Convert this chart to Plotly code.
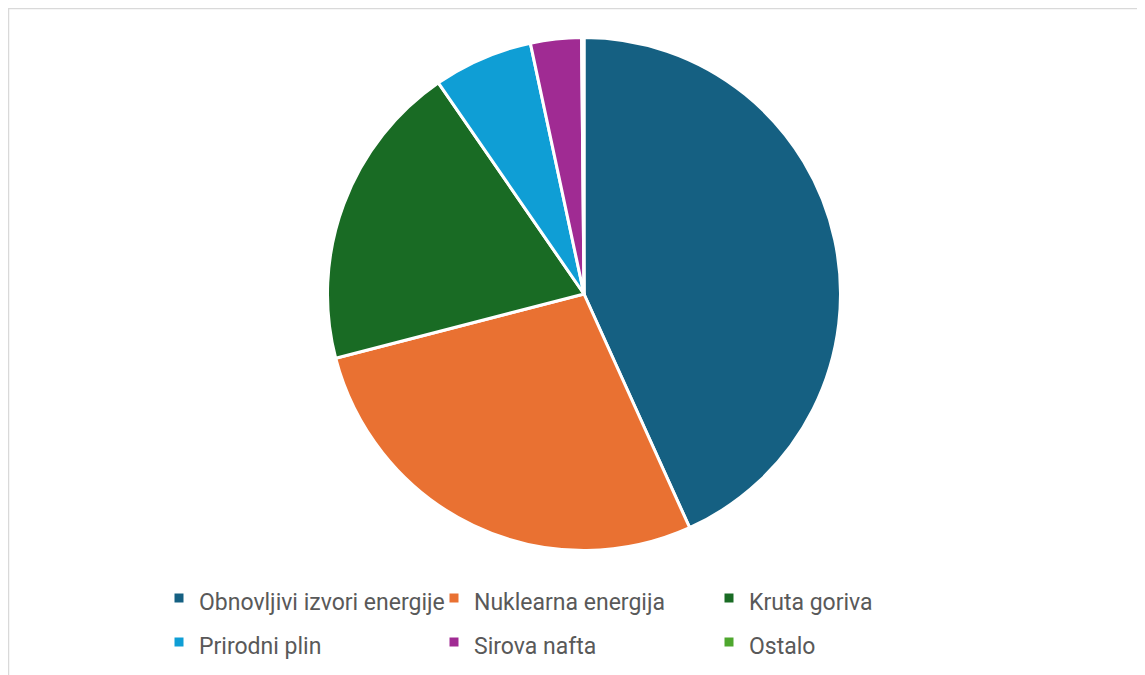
import plotly.graph_objects as go

labels = ["Obnovljivi izvori energije", "Nuklearna energija", "Kruta goriva",
          "Prirodni plin", "Sirova nafta", "Ostalo"]
values = [43.2, 27.7, 19.4, 6.25, 3.2, 0.15]
colors = ["#156082", "#E97132", "#196B24", "#0F9ED5", "#A02B93", "#4EA72E"]

W, H = 1145, 675
MR = 200            # right margin limits the legend to three columns
PW = W - MR

legend_text = [f"<span style='font-size:23px'>{t}</span>" for t in labels]

fig = go.Figure(go.Pie(
    labels=legend_text, values=values, sort=False, direction="clockwise", rotation=0,
    marker=dict(colors=colors, line=dict(color="white", width=3)),
    textinfo="none",
    hovertemplate="%{label}: %{percent}<extra></extra>",
    domain=dict(x=[319.5 / PW, 832.5 / PW], y=[1 - 542.5 / H, 1 - 29.5 / H]),
))

fig.update_layout(
    width=W, height=H,
    margin=dict(l=0, r=MR, t=0, b=0, autoexpand=False),
    paper_bgcolor="white",
    legend=dict(orientation="h", x=151 / PW, xanchor="left",
                y=1 - 563 / H, yanchor="top",
                entrywidth=230, entrywidthmode="pixels",
                font=dict(family="Roboto", size=31.5, color="#595959")),
    shapes=[dict(type="rect", xref="paper", yref="paper", x0=0.5 / PW, x1=(W + 20) / PW,
                 y0=-0.05, y1=1 - 0.5 / H,
                 line=dict(color="#d9d9d9", width=1.5), fillcolor="rgba(0,0,0,0)")],
)

fig.write_html("out.html")
